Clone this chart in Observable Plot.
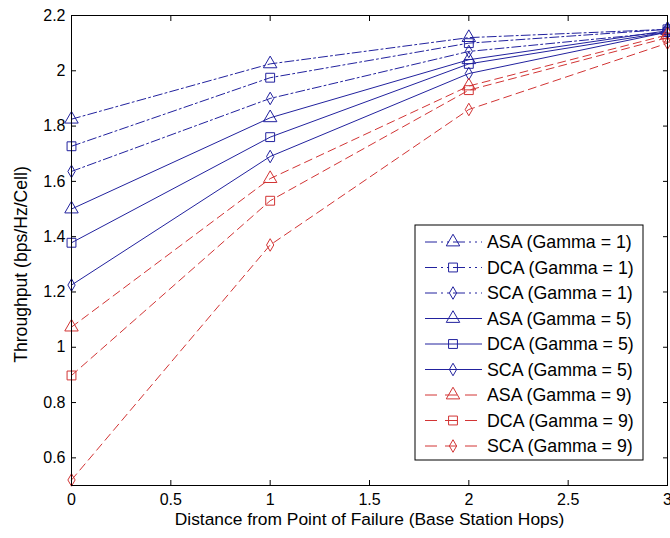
<!DOCTYPE html>
<html>
<head>
<meta charset="utf-8">
<script src="https://cdn.jsdelivr.net/npm/d3@7"></script>
<script src="https://cdn.jsdelivr.net/npm/@observablehq/plot@0.6"></script>
<style>
  html, body { margin: 0; padding: 0; background: #fff; }
  #chart svg { font-family: "Liberation Sans", Arial, sans-serif; }
</style>
</head>
<body>
<div id="chart"></div>
<script>
// ---- data ----
const hops = [0, 1, 2, 3];
const asaG1 = [1.825, 2.025, 2.12, 2.15];
const dcaG1 = [1.727, 1.975, 2.10, 2.15];
const scaG1 = [1.636, 1.90, 2.07, 2.14];
const asaG5 = [1.50, 1.83, 2.04, 2.145];
const dcaG5 = [1.378, 1.76, 2.025, 2.14];
const scaG5 = [1.225, 1.69, 1.99, 2.14];
const asaG9 = [1.073, 1.61, 1.945, 2.13];
const dcaG9 = [0.898, 1.53, 1.93, 2.12];
const scaG9 = [0.52, 1.37, 1.86, 2.10];

const seriesNames = [
  "ASA (Gamma = 1)", "DCA (Gamma = 1)", "SCA (Gamma = 1)",
  "ASA (Gamma = 5)", "DCA (Gamma = 5)", "SCA (Gamma = 5)",
  "ASA (Gamma = 9)", "DCA (Gamma = 9)", "SCA (Gamma = 9)"
];
const seriesValues = [asaG1, dcaG1, scaG1, asaG5, dcaG5, scaG5, asaG9, dcaG9, scaG9];
const xTicks = [0, 0.5, 1, 1.5, 2, 2.5, 3];
const yTicks = [0.6, 0.8, 1, 1.2, 1.4, 1.6, 1.8, 2, 2.2];
const xLabel = "Distance from Point of Failure (Base Station Hops)";
const yLabel = "Throughput (bps/Hz/Cell)";

// ---- styles ----
const BLUE = "#22229e";
const RED = "#d23434";
const styleOf = name => {
  const g = name.match(/Gamma = (\d)/)[1];
  if (g === "1") return {color: BLUE, dash: "9,3,2,3"};
  if (g === "5") return {color: BLUE, dash: null};
  return {color: RED, dash: "8,5"};
};
const symbolOf = name => name.startsWith("ASA") ? "triangle" : name.startsWith("DCA") ? "square" : "diamond";
const radiusOf = sym => sym === "diamond" ? 3.8 : 5;

const rows = [];
seriesNames.forEach((name, i) => {
  hops.forEach((h, j) => rows.push({series: name, x: h, y: seriesValues[i][j]}));
});

const marks = [];
seriesNames.forEach(name => {
  const st = styleOf(name);
  const sym = symbolOf(name);
  const data = rows.filter(r => r.series === name);
  marks.push(Plot.line(data, {x: "x", y: "y", stroke: st.color, strokeWidth: 1, strokeDasharray: st.dash}));
  marks.push(Plot.dot(data, {x: "x", y: "y", stroke: st.color, fill: "none", strokeWidth: 1, symbol: () => sym, r: radiusOf(sym)}));
});

const fmt = d => String(+d.toFixed(1));
const FONT = "'Liberation Sans', Arial, sans-serif";

const chart = Plot.plot({
  width: 670,
  height: 538,
  marginLeft: 71,
  marginRight: 3,
  marginTop: 15,
  marginBottom: 53,
  style: {fontSize: "16px", fontFamily: FONT, background: "#fff", color: "#000", overflow: "visible"},
  x: {domain: [0, 3]},
  y: {domain: [0.5, 2.2]},
  symbol: {type: "identity"},
  marks: [
    ...marks,
    Plot.frame({stroke: "#000", strokeWidth: 1}),
    Plot.axisX(xTicks, {anchor: "bottom", tickSize: -5, tickPadding: 13, tickFormat: fmt, label: null}),
    Plot.axisX(xTicks, {anchor: "top", tickSize: -5, tickFormat: () => "", label: null}),
    Plot.axisY(yTicks, {anchor: "left", tickSize: -5, tickPadding: 11, tickFormat: fmt, label: null}),
    Plot.axisY(yTicks, {anchor: "right", tickSize: -5, tickFormat: () => "", label: null}),
    Plot.text([xLabel], {frameAnchor: "bottom", dy: 39, fontSize: 17.4, fill: "#000", textAnchor: "middle"}),
    Plot.text([yLabel], {frameAnchor: "left", dx: -50, dy: 14, rotate: -90, fontSize: 17.6, fill: "#000", textAnchor: "middle"})
  ]
});
document.getElementById("chart").appendChild(chart);

// ---- legend (inside the axes, lower right) ----
const svg = d3.select(chart);
const lg = svg.append("g").attr("class", "legend").attr("transform", "translate(415,225)");
lg.append("rect").attr("x", 0).attr("y", 0).attr("width", 228).attr("height", 235)
  .attr("fill", "#fff").attr("stroke", "#000").attr("stroke-width", 1);
const symMap = {triangle: d3.symbolTriangle, square: d3.symbolSquare, diamond: d3.symbolDiamond};
seriesNames.forEach((name, i) => {
  const st = styleOf(name);
  const sym = symbolOf(name);
  const cy = 17 + i * 25.5;
  const row = lg.append("g").attr("transform", `translate(0,${cy})`);
  row.append("line").attr("x1", 10).attr("x2", 67).attr("y1", 0).attr("y2", 0)
    .attr("stroke", st.color).attr("stroke-width", 1)
    .attr("stroke-dasharray", st.dash === "8,5" ? "12,8" : st.dash ? "12,4,2,4,2,4" : null);
  const r = radiusOf(sym);
  row.append("path").attr("d", d3.symbol(symMap[sym], Math.PI * r * r)())
    .attr("transform", "translate(38,0)").attr("fill", "none").attr("stroke", st.color).attr("stroke-width", 1);
  row.append("text").attr("x", 72).attr("y", 0).attr("dy", "0.35em")
    .attr("text-anchor", "start").attr("font-family", FONT)
    .attr("font-size", 17.8).attr("fill", "#000").text(name);
});
</script>
</body>
</html>
